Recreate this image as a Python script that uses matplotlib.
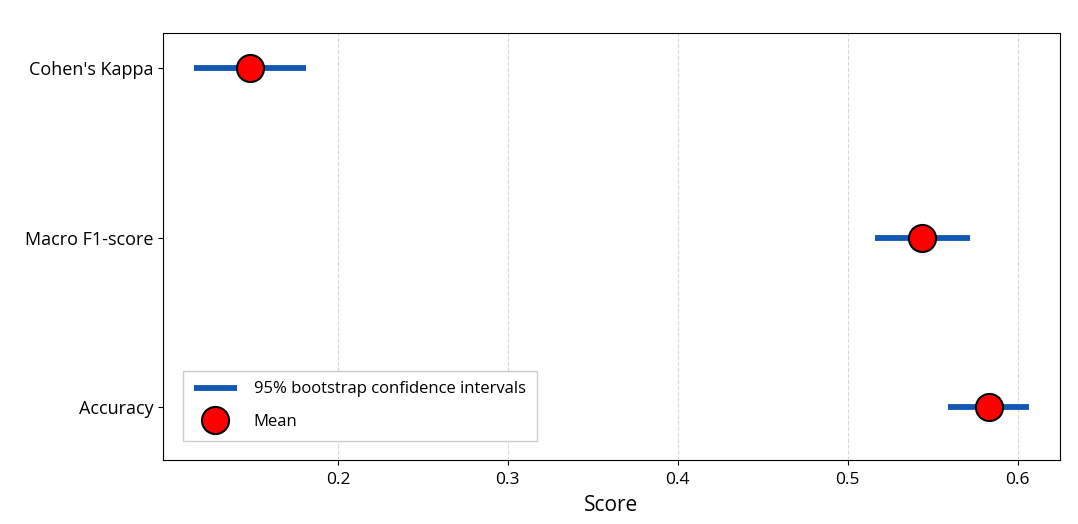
import matplotlib
matplotlib.use("Agg")
import matplotlib.pyplot as plt

metrics = ["Accuracy", "Macro F1-score", "Cohen's Kappa"]
means = [0.583, 0.544, 0.148]
ci_low = [0.559, 0.516, 0.115]
ci_high = [0.607, 0.572, 0.181]
xticks = [0.2, 0.3, 0.4, 0.5, 0.6]

plt.rcParams['font.family'] = ['Open Sans', 'DejaVu Sans']

fig = plt.figure(figsize=(10.78, 5.24), dpi=100)
ax = fig.add_axes([163/1078, 1 - 460/524, (1060-163)/1078, (460-33)/524])

ypos = list(range(len(metrics)))
for i, (lo, hi) in enumerate(zip(ci_low, ci_high)):
    ax.plot([lo, hi], [ypos[i], ypos[i]], color='#1158b4', lw=4.2, solid_capstyle='butt',
            label='95% bootstrap confidence intervals' if i == 0 else None, zorder=2)
ax.plot(means, ypos, 'o', markersize=19.5, markerfacecolor='#ff0000', markeredgecolor='black',
        markeredgewidth=1.5, linestyle='none', label='Mean', zorder=3)

ax.set_yticks(ypos)
ax.set_yticklabels(metrics, fontsize=13)
ax.set_xticks(xticks)
ax.set_xticklabels([f"{t:.1f}" for t in xticks], fontsize=12.5)
ax.tick_params(axis='x', pad=5)
ax.set_xlim(0.097, 0.625)
ax.set_ylim(-0.31, 2.205)
ax.set_xlabel("Score", fontsize=15, labelpad=5)
ax.xaxis.grid(True, linestyle='--', color='#d9d9d9', lw=0.8)
ax.set_axisbelow(True)
ax.legend(loc='lower left', fontsize=12.0, borderpad=0.65, labelspacing=1.0,
          handlelength=2.6, handletextpad=1.0, fancybox=False, framealpha=1,
          edgecolor='#cccccc', bbox_to_anchor=(0.013, 0.025))

fig.savefig("out.png", dpi=100)
